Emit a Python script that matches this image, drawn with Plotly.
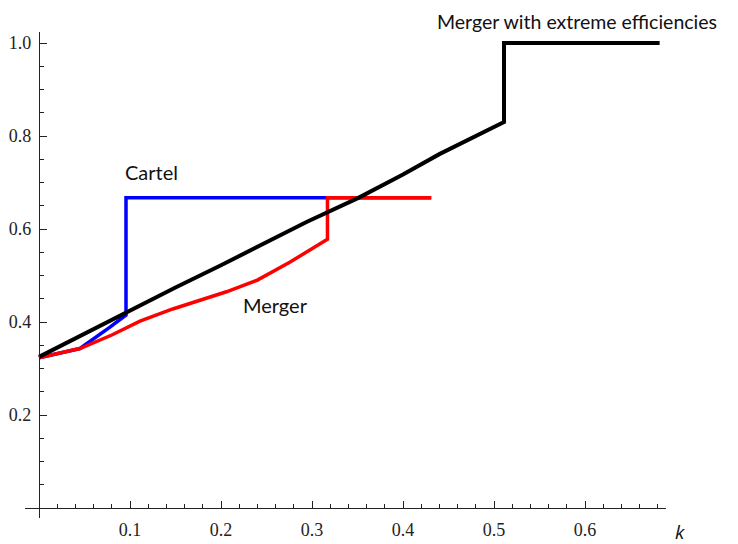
import plotly.graph_objects as go

# Data
black_k = [0, 0.05, 0.111, 0.15, 0.2, 0.265, 0.294, 0.351, 0.4, 0.44, 0.511, 0.511, 0.682]
black_v = [0.325, 0.375, 0.437, 0.474, 0.522, 0.587, 0.615, 0.667, 0.717, 0.761, 0.830, 1.0, 1.0]

red_k = [0, 0.045, 0.08, 0.111, 0.147, 0.206, 0.24, 0.276, 0.317, 0.317, 0.431]
red_v = [0.323, 0.343, 0.372, 0.402, 0.428, 0.465, 0.49, 0.529, 0.578, 0.667, 0.667]

blue_k = [0, 0.045, 0.078, 0.0956, 0.0956, 0.431]
blue_v = [0.323, 0.343, 0.389, 0.415, 0.667, 0.667]

x_major = [0.1, 0.2, 0.3, 0.4, 0.5, 0.6]
x_major_labels = ["0.1", "0.2", "0.3", "0.4", "0.5", "0.6"]
x_minor = [i / 50 for i in range(1, 35)]
y_major = [0.2, 0.4, 0.6, 0.8, 1.0]
y_major_labels = ["0.2", "0.4", "0.6", "0.8", "1.0"]
y_minor = [i / 20 for i in range(1, 21)]

labels = [
    ("Cartel", 0.124, 0.723),
    ("Merger", 0.2604, 0.4366),
]
top_label = "Merger with extreme efficiencies"
axis_label = "k"

# page body has an 8px margin, so the figure is laid out 8px smaller
OFF = 8
W, H = 738 - OFF, 544 - OFF
L, T = 25 - OFF, 32 - OFF
R = W - (666 - OFF)
B = H - (518 - OFF)
pw = W - L - R
ph = H - T - B

fig = go.Figure()
fig.add_trace(go.Scatter(x=blue_k, y=blue_v, mode="lines",
                         line=dict(color="#0000FF", width=3.5), cliponaxis=False))
fig.add_trace(go.Scatter(x=red_k, y=red_v, mode="lines",
                         line=dict(color="#FF0000", width=3.5), cliponaxis=False))
fig.add_trace(go.Scatter(x=black_k, y=black_v, mode="lines",
                         line=dict(color="#000000", width=4), cliponaxis=False))

for txt, x, y in labels:
    fig.add_annotation(x=x, y=y, text=txt, showarrow=False,
                       xanchor="center", yanchor="middle",
                       font=dict(family="Lato", size=20, color="#111111"))

# labels outside the axis ranges are placed in paper coordinates
fig.add_annotation(xref="paper", yref="paper",
                   x=(577 - OFF - L) / pw, y=(H - B - (21 - OFF)) / ph,
                   xanchor="center", yanchor="middle",
                   text=top_label, showarrow=False,
                   font=dict(family="Lato", size=19.5, color="#111111"))
fig.add_annotation(xref="paper", yref="paper",
                   x=(680 - OFF - L) / pw, y=(H - B - (532 - OFF)) / ph,
                   xanchor="center", yanchor="middle",
                   text="<i>" + axis_label + "</i>", showarrow=False,
                   font=dict(family="Open Sans", size=19, color="#111111"))

fig.update_layout(
    width=W, height=H,
    margin=dict(l=L, r=R, t=T, b=B, autoexpand=False),
    paper_bgcolor="white", plot_bgcolor="white",
    showlegend=False,
    xaxis=dict(
        range=[(25 - 39) / 910, (666 - 39) / 910],
        anchor="free", position=(518 - 508) / ph, automargin=False,
        showline=True, linecolor="#222222", linewidth=1.3,
        showgrid=False, zeroline=False,
        tickmode="array", tickvals=x_major, ticktext=x_major_labels,
        ticks="inside", ticklen=7, tickwidth=1, tickcolor="#222222",
        ticklabelstandoff=5,
        tickfont=dict(family="Liberation Serif", size=18, color="#222222"),
        minor=dict(tickmode="array", tickvals=x_minor, ticks="inside",
                   ticklen=4, tickwidth=1, tickcolor="#222222"),
    ),
    yaxis=dict(
        range=[(508 - 518) / 465, (508 - 32) / 465],
        anchor="free", position=(39 - 25) / pw, automargin=False,
        showline=True, linecolor="#222222", linewidth=1.3,
        showgrid=False, zeroline=False,
        tickmode="array", tickvals=y_major, ticktext=y_major_labels,
        ticks="inside", ticklen=7, tickwidth=1, tickcolor="#222222",
        ticklabelstandoff=4,
        tickfont=dict(family="Liberation Serif", size=18, color="#222222"),
        minor=dict(tickmode="array", tickvals=y_minor, ticks="inside",
                   ticklen=4, tickwidth=1, tickcolor="#222222"),
    ),
)

fig.write_html("out.html")
